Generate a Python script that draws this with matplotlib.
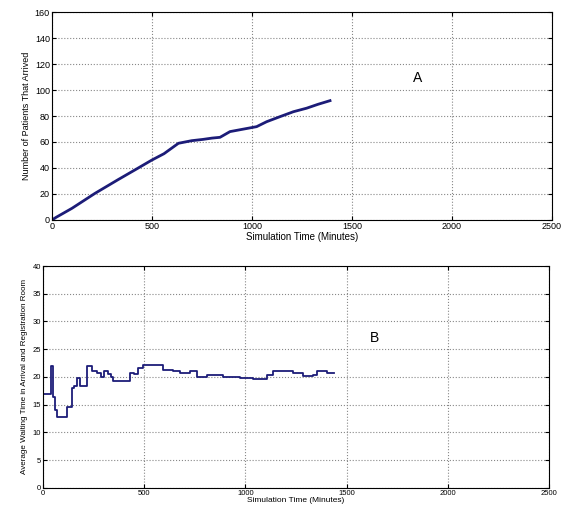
import matplotlib.pyplot as plt

# panel A: cumulative arrivals
arr_time = [0, 20, 100, 215, 330, 420, 498, 560, 632, 698, 755, 800, 840, 890,
            960, 1023, 1073, 1140, 1207, 1273, 1330, 1390]
arr_count = [0, 2, 9, 20.5, 31, 39, 46, 51, 59, 61, 62, 63, 63.6, 68,
             70, 71.8, 75.6, 79.5, 83.3, 86, 89, 91.8]

# panel B: running average waiting time (step curve)
wait_time = [0, 2, 40, 50, 59, 68, 117, 142, 155, 166, 183, 219, 240, 265, 285,
             300, 320, 335, 346, 430, 450, 470, 494, 593, 643, 677, 726, 759,
             809, 890, 973, 1038, 1105, 1138, 1187, 1236, 1286, 1335, 1352,
             1401, 1435, 1440]
wait_avg = [0, 17, 22, 16.4, 14, 12.8, 14.6, 18, 18.4, 19.8, 18.3, 21.9, 21, 20.7,
            20, 21, 20.5, 20, 19.2, 20.7, 20.5, 21.6, 22.2, 21.3, 21, 20.7, 21, 20,
            20.3, 20, 19.8, 19.6, 20.3, 21.1, 21.1, 20.7, 20.2, 20.3, 21.1,
            20.8, 20.7, 20.7]

plt.rcParams["font.family"] = ["Liberation Sans", "DejaVu Sans"]

fig = plt.figure(figsize=(5.61, 5.09), dpi=100)
ax1 = fig.add_axes([0.0927, 0.5678, 0.8913, 0.4086])
ax2 = fig.add_axes([0.0766, 0.0413, 0.902, 0.4361])

line_col = "#1c1c78"

ax1.plot(arr_time, arr_count, color=line_col, lw=2.0)
ax1.set_xlim(0, 2500)
ax1.set_ylim(0, 160)
ax1.set_yticks(range(0, 161, 20))
ax1.set_xticks(range(0, 2501, 500))
ax1.set_xlabel("Simulation Time (Minutes)", fontsize=7, labelpad=1)
ax1.set_ylabel("Number of Patients That Arrived", fontsize=6.5, labelpad=3)
ax1.text(1830, 109, "A", fontsize=10, ha="center", va="center")
ax1.tick_params(labelsize=6.5)

ax2.step(wait_time, wait_avg, where="post", color=line_col, lw=1.3)
ax2.set_xlim(0, 2500)
ax2.set_ylim(0, 40)
ax2.set_yticks(range(0, 41, 5))
ax2.set_xticks(range(0, 2501, 500))
ax2.set_xlabel("Simulation Time (Minutes)", fontsize=6, labelpad=0)
ax2.set_ylabel("Average Waiting Time in Arrival and Registration Room",
               fontsize=5.8, labelpad=3)
ax2.text(1640, 27, "B", fontsize=10, ha="center", va="center")
ax2.tick_params(labelsize=5.5)

for ax in (ax1, ax2):
    ax.grid(True, ls=":", color="#888888", lw=0.8)
    ax.tick_params(direction="in", top=True, right=True,
                   length=3, pad=1.5)
    for s in ax.spines.values():
        s.set_linewidth(0.8)

plt.savefig("out.png", dpi=100)
plt.close()
